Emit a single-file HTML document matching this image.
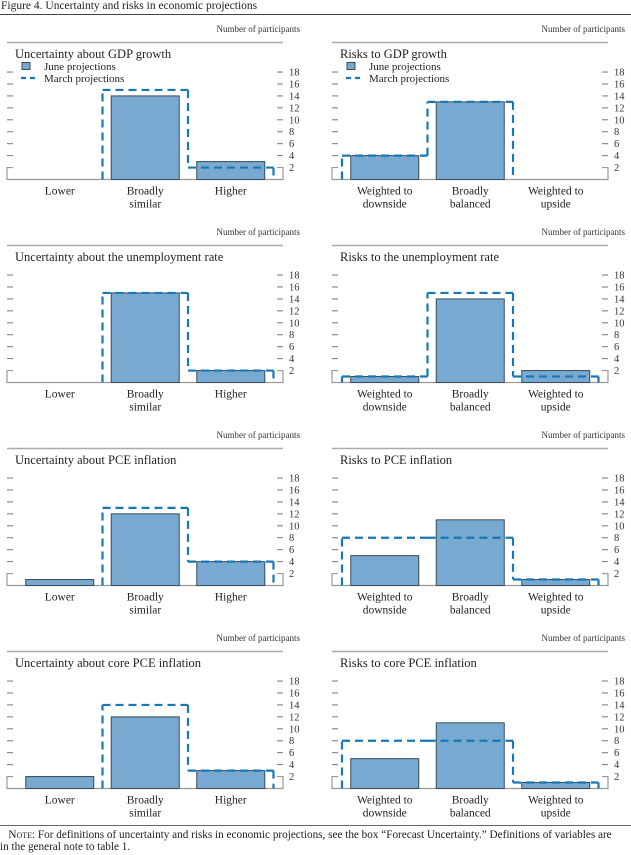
<!DOCTYPE html>
<html><head><meta charset="utf-8">
<style>
html,body{margin:0;padding:0;background:#fff;}
body{width:631px;height:855px;position:relative;overflow:hidden;font-family:"Liberation Serif",serif;color:#222;}
#fig-title{position:absolute;left:1px;top:0px;font-size:11.5px;}
#top-rule{position:absolute;left:0;top:14px;width:631px;height:1px;background:#444;}
#note-rule{position:absolute;left:0;top:825px;width:631px;height:1px;background:#666;}
#note{position:absolute;left:0;top:829px;width:640px;font-size:11.2px;line-height:12px;white-space:nowrap;}
svg{position:absolute;left:0;top:0;}
</style></head><body>
<div id="fig-title">Figure 4. Uncertainty and risks in economic projections</div>
<div id="top-rule"></div>
<svg id="chart" width="631" height="855"></svg>
<div id="note-rule"></div>
<div id="note">&nbsp;&nbsp;&nbsp;<span style="font-variant:small-caps">Note</span>: For definitions of uncertainty and risks in economic projections, see the box “Forecast Uncertainty.” Definitions of variables are<br>in the general note to table 1.</div>
<script>
const titles = ["Uncertainty about GDP growth","Risks to GDP growth","Uncertainty about the unemployment rate","Risks to the unemployment rate","Uncertainty about PCE inflation","Risks to PCE inflation","Uncertainty about core PCE inflation","Risks to core PCE inflation"];
const uncCats = [["Lower"],["Broadly","similar"],["Higher"]];
const riskCats = [["Weighted to","downside"],["Broadly","balanced"],["Weighted to","upside"]];
const juneValues = [[0,14,3],[4,13,0],[0,15,2],[1,14,2],[1,12,4],[5,11,1],[2,12,3],[5,11,1]];
const marchValues = [[0,15,2],[4,13,0],[0,15,2],[1,15,1],[0,13,4],[8,8,1],[0,14,3],[8,8,1]];
const tickLabels = [2,4,6,8,10,12,14,16,18];

const NS="http://www.w3.org/2000/svg";
const svg=document.getElementById('chart');
function mk(tag,attrs,parent,text){const e=document.createElementNS(NS,tag);for(const k in attrs)e.setAttribute(k,attrs[k]);if(text!==undefined)e.textContent=text;(parent||svg).appendChild(e);return e;}

for(let p=0;p<8;p++){
  const col=p%2,row=Math.floor(p/2);
  const ox=col*325, oy=row*203;
  const axL=7+ox, axR=283+ox, base=179.5+oy;
  const yS=v=>base-v*5.97;
  const catW=85.5, x0=axL+10;
  const xC=i=>x0+catW*(i+0.5);
  const g=mk('g',{});
  
  
  const np=mk('text',{x:axR+17,y:32+oy,'font-size':'9','text-anchor':'end','font-family':'Liberation Serif, serif',fill:'#333'},g,'Number of participants');
  
  
  const rl=mk('line',{x1:axL,x2:axR,y1:42.5+oy,y2:42.5+oy,stroke:'#aaa','stroke-width':'1.5'},g);
  
  
  const tt=mk('text',{x:axL+8,y:58+oy,'font-size':'12.5','font-family':'Liberation Serif, serif',fill:'#222'},g,titles[p]);
  
  
  tickLabels.forEach(t=>{
    const y=yS(t);
    if(t>2){
      const a=mk('line',{x1:axL,x2:axL+6,y1:y,y2:y,stroke:'#777','stroke-width':'1'},g);
      
      
      const b=mk('line',{x1:axR-6,x2:axR,y1:y,y2:y,stroke:'#777','stroke-width':'1'},g);
      
      
    }
    const l=mk('text',{x:axR+6,y:y+3.5,'font-size':'10.5','font-family':'Liberation Serif, serif',fill:'#333'},g,String(t));
    
    
  });
  const fy=yS(2);
  const fr=mk('path',{d:`M${axL+6},${fy}H${axL}V${base}H${axR}V${fy}H${axR-6}`,fill:'none',stroke:'#999','stroke-width':'1.2'},g);
  
  
  const cats=col===0?uncCats:riskCats;
  const jv=juneValues[p], mv=marchValues[p];
  for(let i=0;i<3;i++){
    if(jv[i]>0){
      const r=mk('rect',{x:xC(i)-34,y:yS(jv[i]),width:68,height:base-yS(jv[i]),fill:'#77a9d1',stroke:'#3a4a58','stroke-width':'1'},g);
      
      
    }
    cats[i].forEach((ln,k)=>{
      const c=mk('text',{x:xC(i),y:base+15+k*13,'font-size':'11.5','text-anchor':'middle','font-family':'Liberation Serif, serif',fill:'#222'},g,ln);
      
      
    });
  }
  const lv=[0].concat(mv).concat([0]);
  let d='';
  for(let i=0;i<3;i++){
    const xa=x0+catW*i, xb=x0+catW*(i+1);
    if(lv[i]>0||mv[i]>0){ d+=`M${xa},${yS(lv[i])}V${yS(mv[i])}`; }
    if(mv[i]>0){ d+=`M${xa},${yS(mv[i])}H${xb}`; }
  }
  const xe=x0+catW*3;
  if(mv[2]>0) d+=`M${xe},${yS(mv[2])}V${base}`;
  const m=mk('path',{d:d,fill:'none',stroke:'#1877b5','stroke-width':'2.2','stroke-dasharray':'8 5'},g);
  
  
  if(row===0){
    const lg=mk('g',{},g);
    
    
    const lr=mk('rect',{x:axL+15,y:62.5+oy,width:8,height:7,fill:'#77a9d1',stroke:'#3a4a58','stroke-width':'1'},lg);
    
    
    const lt=mk('text',{x:axL+37,y:70+oy,'font-size':'11','font-family':'Liberation Serif, serif',fill:'#222'},lg,'June projections');
    
    
    const ll=mk('line',{x1:axL+14,x2:axL+29,y1:78+oy,y2:78+oy,stroke:'#1877b5','stroke-width':'2.2','stroke-dasharray':'5 4'},lg);
    
    
    const lt2=mk('text',{x:axL+37,y:82+oy,'font-size':'11','font-family':'Liberation Serif, serif',fill:'#222'},lg,'March projections');
    
    
  }
}
</script>
</body></html>
